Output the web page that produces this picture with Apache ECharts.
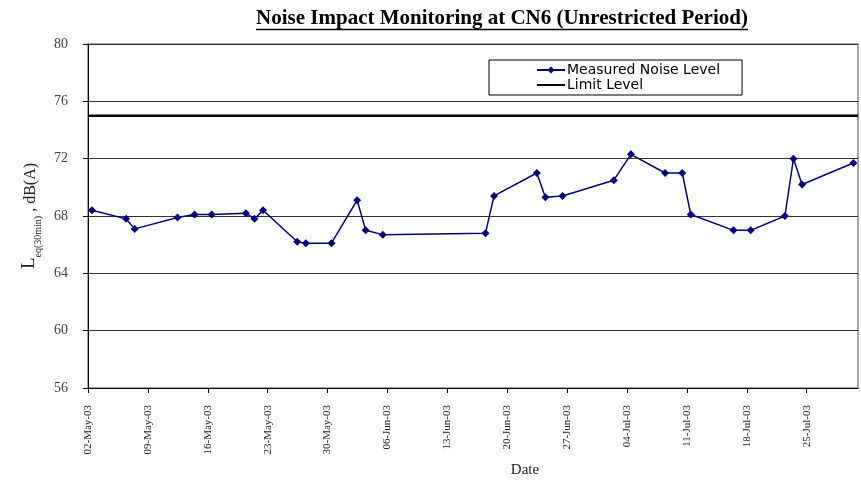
<!DOCTYPE html>
<html>
<head>
<meta charset="utf-8">
<script src="https://cdn.jsdelivr.net/npm/echarts@6/dist/echarts.min.js"></script>
<style>html,body{margin:0;padding:0;background:#fff}#c{width:861px;height:480px}</style>
</head>
<body>
<div id="c"></div>
<script>
// ---- data ----
const titleText = 'Noise Impact Monitoring at CN6 (Unrestricted Period)';
const measuredDates = [
  '2003-05-02 11:00','2003-05-06 11:00','2003-05-07 11:00','2003-05-12 11:00','2003-05-14 11:00',
  '2003-05-16 11:00','2003-05-20 11:00','2003-05-21 11:00','2003-05-22 11:00','2003-05-26 11:00',
  '2003-05-27 11:00','2003-05-30 11:00','2003-06-02 11:00','2003-06-03 11:00','2003-06-05 11:00',
  '2003-06-17 11:00','2003-06-18 11:00','2003-06-23 11:00','2003-06-24 11:00','2003-06-26 11:00',
  '2003-07-02 11:00','2003-07-04 11:00','2003-07-08 11:00','2003-07-10 11:00','2003-07-11 11:00',
  '2003-07-16 11:00','2003-07-18 11:00','2003-07-22 11:00','2003-07-23 11:00','2003-07-24 11:00',
  '2003-07-30 11:00'
];
const measuredValues = [
  68.4, 67.8, 67.1, 67.9, 68.1,
  68.1, 68.2, 67.8, 68.4, 66.2,
  66.1, 66.1, 69.1, 67.0, 66.7,
  66.8, 69.4, 71.0, 69.3, 69.4,
  70.5, 72.3, 71.0, 71.0, 68.1,
  67.0, 67.0, 68.0, 72.0, 70.2,
  71.7
];
const limitLevel = 75;
const xStart = '2003-05-02 00:00';
const xEnd = '2003-07-31 00:00';
const xTickLabels = ['02-May-03','09-May-03','16-May-03','23-May-03','30-May-03','06-Jun-03',
  '13-Jun-03','20-Jun-03','27-Jun-03','04-Jul-03','11-Jul-03','18-Jul-03','25-Jul-03'];
const yMin = 56, yMax = 80, yStep = 4;
const seriesNames = ['Measured Noise Level', 'Limit Level'];

// ---- helpers ----
function toTs(s) {
  const m = s.match(/(\d+)-(\d+)-(\d+) (\d+):(\d+)/);
  return Date.UTC(+m[1], +m[2] - 1, +m[3], +m[4], +m[5]);
}
const DAY = 86400000;
const xMin = toTs(xStart), xMax = toTs(xEnd);
const xInterval = 7 * DAY;

const measuredData = measuredDates.map((d, i) => [toTs(d), measuredValues[i]]);
const limitData = [[xMin, limitLevel], [xMax, limitLevel]];

// measure title width for the underline
const cv = document.createElement('canvas').getContext('2d');
const titleSize = 21;
cv.font = 'bold ' + titleSize + 'px "Liberation Serif"';
const titleW = cv.measureText(titleText).width;
const titleCx = 502;

const chart = echarts.init(document.getElementById('c'), null, {renderer: 'canvas'});
chart.setOption({
  animation: false,
  backgroundColor: '#fff',
  title: {
    text: titleText,
    left: titleCx - titleW / 2,
    top: 8,
    padding: 0,
    textStyle: {fontFamily: 'Liberation Serif', fontWeight: 'bold', fontSize: titleSize, color: '#000'}
  },
  graphic: [{
    type: 'line',
    shape: {x1: titleCx - titleW / 2, y1: 29.5, x2: titleCx + titleW / 2, y2: 29.5},
    style: {stroke: '#000', lineWidth: 1.5}
  }],
  grid: {left: 88, right: 3, top: 44, bottom: 92, show: true, borderColor: '#888', borderWidth: 1.5,
    containLabel: false, outerBoundsMode: 'none'},
  legend: {
    orient: 'vertical',
    left: 489, top: 60,
    padding: [3, 22, 3, 47],
    borderColor: '#000', borderWidth: 1, backgroundColor: '#fff',
    itemWidth: 28, itemHeight: 9, itemGap: 1,
    textStyle: {fontFamily: 'DejaVu Sans', fontSize: 14, lineHeight: 12, color: '#000', padding: [0, 0, 0, -3]},
    data: [
      {name: seriesNames[0]},
      {name: seriesNames[1], itemStyle: {opacity: 0}}
    ]
  },
  xAxis: {
    type: 'value',
    min: xMin, max: xMax, interval: xInterval,
    name: 'Date',
    nameLocation: 'middle',
    nameGap: 72,
    nameTextStyle: {fontFamily: 'Liberation Serif', fontSize: 15, color: '#222', padding: [0, 0, 0, 104]},
    axisLine: {show: true, lineStyle: {color: '#000', width: 1}},
    axisTick: {show: true, length: 5, lineStyle: {color: '#000'}},
    splitLine: {show: false},
    axisLabel: {
      rotate: 90, margin: 17, showMaxLabel: false,
      fontFamily: 'Liberation Serif', fontSize: 11, color: '#222',
      formatter: function (v) {
        const idx = Math.round((v - xMin) / xInterval);
        if (Math.abs(v - (xMin + idx * xInterval)) > 1000) return '';
        return xTickLabels[idx] || '';
      }
    }
  },
  yAxis: {
    type: 'value',
    min: yMin, max: yMax, interval: yStep,
    name: '{L|L}{s|eq(30min)}{n| , dB(A)}',
    nameLocation: 'middle',
    nameGap: 45,
    nameTextStyle: {
      color: '#222',
      rich: {
        L: {fontFamily: 'Liberation Serif', fontSize: 19, color: '#222', verticalAlign: 'top', padding: [0, 0, 4, 0]},
        s: {fontFamily: 'Liberation Serif', fontSize: 10, color: '#222', verticalAlign: 'bottom'},
        n: {fontFamily: 'Liberation Serif', fontSize: 16, color: '#222', verticalAlign: 'top', padding: [3, 0, 3, 0]}
      }
    },
    axisLine: {show: true, lineStyle: {color: '#000', width: 1}},
    axisTick: {show: true, length: 5, lineStyle: {color: '#000'}},
    axisLabel: {margin: 20, fontFamily: 'Liberation Serif', fontSize: 14, color: '#444'},
    splitLine: {show: true, lineStyle: {color: '#333', width: 1}}
  },
  series: [
    {
      name: seriesNames[0],
      type: 'line',
      data: measuredData,
      symbol: 'diamond',
      symbolSize: 8,
      color: '#000080',
      itemStyle: {color: '#000080'},
      lineStyle: {color: '#000080', width: 1.5},
      z: 3
    },
    {
      name: seriesNames[1],
      type: 'line',
      data: limitData,
      symbol: 'none',
      showSymbol: false,
      color: '#000',
      lineStyle: {color: '#000', width: 2.5},
      z: 2
    }
  ]
});
</script>
</body>
</html>
